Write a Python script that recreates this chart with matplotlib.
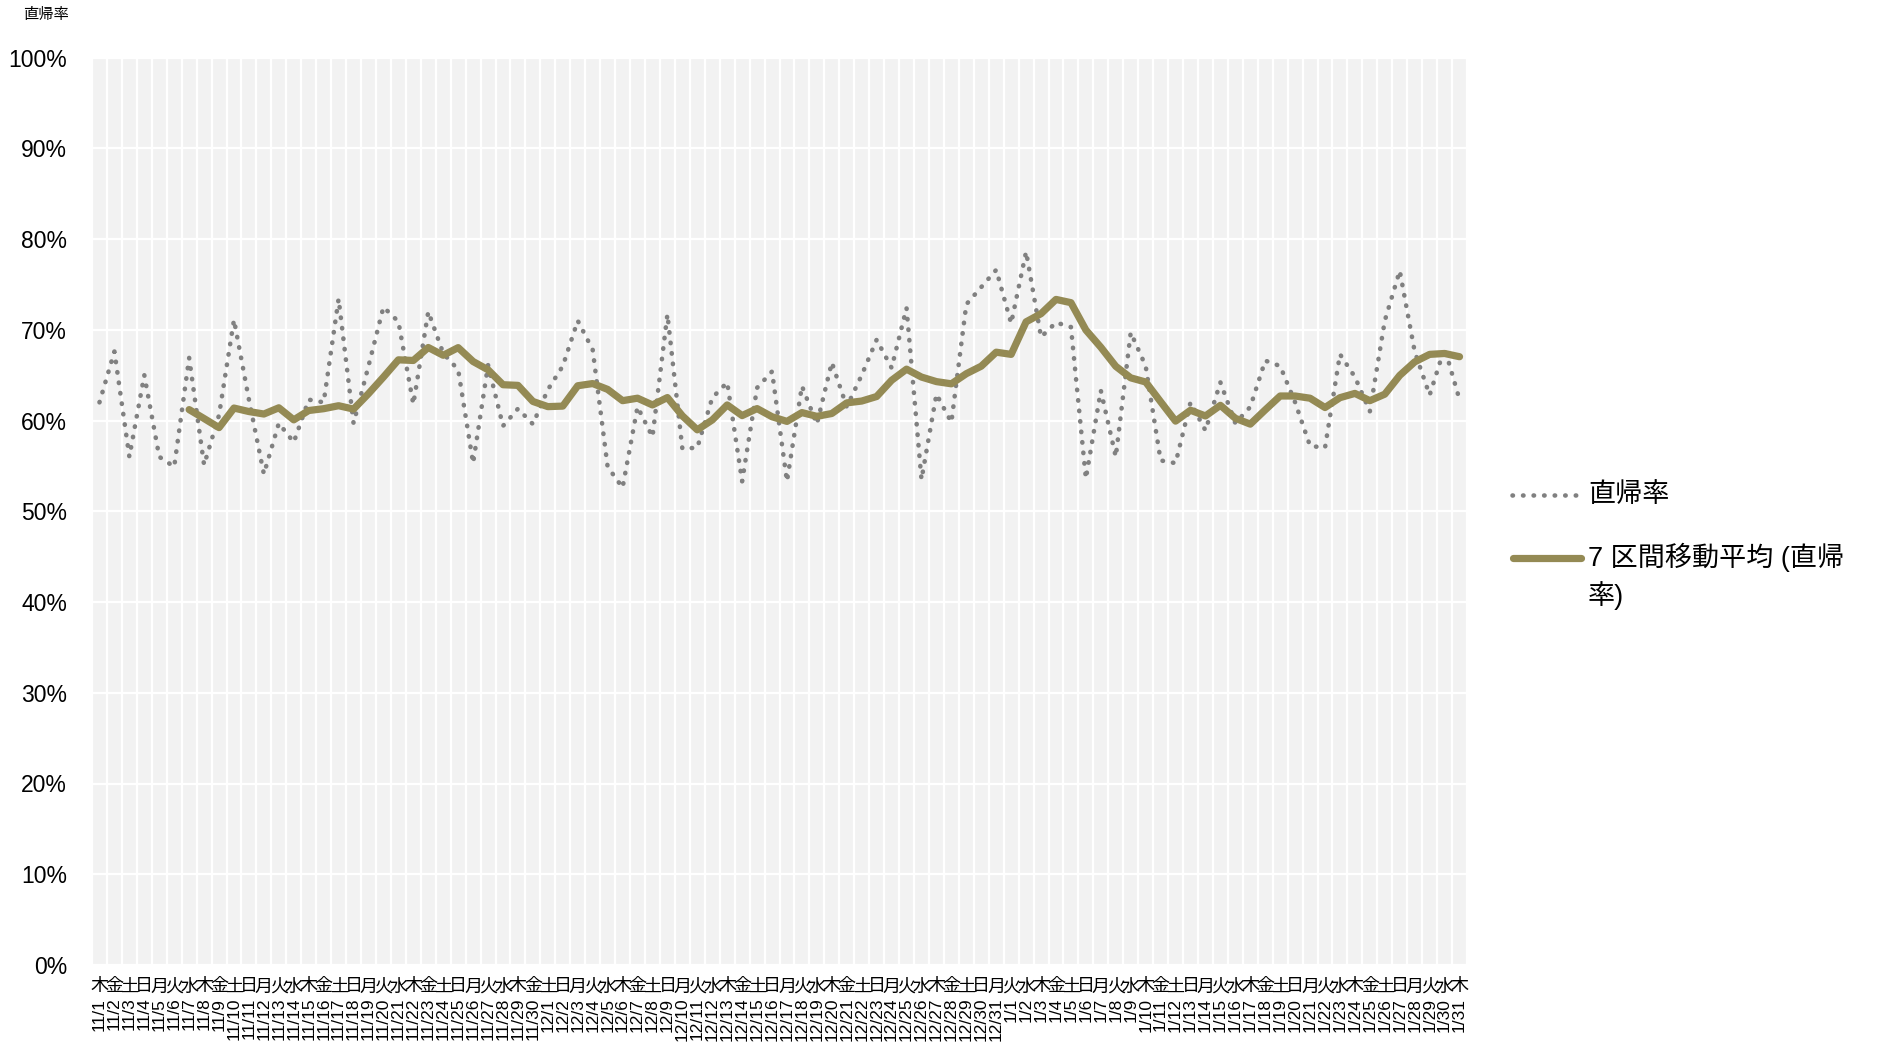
import numpy as np
import pandas as pd
import matplotlib
matplotlib.use("Agg")
import matplotlib.pyplot as plt
from matplotlib.lines import Line2D
from matplotlib import transforms

plt.rcParams['font.family'] = ['Liberation Sans', 'Noto Sans CJK JP', 'DejaVu Sans']

# ---------------- data ----------------
dates = pd.date_range('2018-11-01', '2019-01-31', freq='D')
date_labels = [f"{d.month}/{d.day}" for d in dates]
weekday_names = ['月', '火', '水', '木', '金', '土', '日']
weekday_labels = [weekday_names[d.weekday()] for d in dates]

# 直帰率 (%)
bounce_rate = [
    62.0, 67.6, 56.0, 65.0, 56.0, 54.9, 66.9, 55.1, 60.6, 71.1,   # 11/1-11/10
    62.3, 54.1, 59.7, 57.6, 62.3, 62.0, 73.4, 59.7, 66.0, 72.5,   # 11/11-11/20
    70.9, 61.8, 72.0, 67.4, 65.6, 55.3, 66.1, 59.4, 61.3, 59.6,   # 11/21-11/30
    63.4, 66.0, 71.0, 67.8, 54.9, 52.6, 61.5, 58.2, 71.7, 56.9,   # 12/1-12/10
    57.0, 62.5, 64.2, 53.3, 63.6, 65.4, 53.3, 63.8, 59.6, 66.4,   # 12/11-12/20
    61.5, 65.0, 68.9, 65.8, 72.4, 53.5, 62.9, 59.8, 72.8, 74.7,   # 12/21-12/30
    76.6,                                                        # 12/31
    70.7, 78.6, 69.2, 70.8, 70.3, 53.6, 63.3, 56.0, 69.7, 66.0,   # 1/1-1/10
    55.6, 55.3, 62.0, 58.9, 64.2, 59.7, 61.5, 66.6, 66.0, 62.0,   # 1/11-1/20
    57.2, 57.0, 67.3, 64.8, 61.0, 71.0, 76.5, 67.6, 62.8, 68.0,   # 1/21-1/30
    62.3,                                                        # 1/31
]
ma_window = 7
series_names = ['直帰率', '7 区間移動平均 (直帰\n率)']
y_ticks = list(range(0, 101, 10))
y_tick_labels = [f"{v}%" for v in y_ticks]
axis_title = '直帰率'

# ---------------- figure ----------------
W, H = 1884, 1044
fig = plt.figure(figsize=(W / 100, H / 100), dpi=100)
ax = fig.add_axes([92 / W, 1 - 965 / H, (1467 - 92) / W, (965 - 57.5) / H])
ax.set_facecolor('#f2f2f2')
for s in ax.spines.values():
    s.set_visible(False)

x = np.arange(len(bounce_rate))
rate = pd.Series(bounce_rate)
ma = rate.rolling(ma_window).mean()

grey = '#808080'
olive = '#948a54'

ax.plot(x, rate, color=grey, lw=3.3, linestyle=(0, (0.1, 2.2)),
        dash_capstyle='round', zorder=3)
ax.plot(x, ma, color=olive, lw=5.2, solid_joinstyle='round',
        solid_capstyle='round', zorder=4)

ax.set_xlim(-0.5, len(x) - 0.5)
ax.set_ylim(0, 100)
ax.set_yticks(y_ticks)
ax.set_yticklabels(y_tick_labels, fontsize=16.5, family=['Liberation Sans'])
ax.set_xticks(x)
ax.set_xticklabels(date_labels, rotation=90, fontsize=12.5,
                   family=['Liberation Sans'])
ax.set_xticks(np.arange(-0.5, len(x), 1), minor=True)
ax.tick_params(axis='x', which='both', length=0, pad=23.5)
ax.tick_params(axis='y', which='both', length=0, pad=18)
ax.grid(which='minor', axis='x', color='white', lw=1.6)
ax.grid(which='major', axis='y', color='white', lw=1.6)
ax.grid(which='major', axis='x', visible=False)
ax.set_axisbelow(True)

# upright weekday characters under each category
wk_trans = transforms.offset_copy(ax.get_xaxis_transform(), fig=fig,
                                  x=0, y=-21.5, units='dots')
for i, w in enumerate(weekday_labels):
    ax.text(i, 0, w, transform=wk_trans, ha='center', va='center',
            fontsize=13, family=['Noto Sans CJK JP'])

# axis title
fig.text(23 / W, 1 - 14 / H, axis_title, ha='left', va='center',
         fontsize=11, family=['Noto Sans CJK JP'])

# legend (drawn manually to match layout)
fig.add_artist(Line2D([1512 / W, 1577 / W], [1 - 495 / H] * 2,
                      transform=fig.transFigure, color=grey, lw=3.3,
                      linestyle=(0, (0.1, 2.2)), dash_capstyle='round'))
fig.add_artist(Line2D([1513 / W, 1581 / W], [1 - 557.5 / H] * 2,
                      transform=fig.transFigure, color=olive, lw=5.2,
                      solid_capstyle='round'))
fig.text(1588 / W, 1 - 495 / H, series_names[0], ha='left', va='center',
         fontsize=19.5, family=['Noto Sans CJK JP'])
fig.text(1588 / W, 1 - 604 / H, series_names[1], ha='left', va='baseline',
         fontsize=19.5, linespacing=1.4,
         family=['Liberation Sans', 'Noto Sans CJK JP'])

fig.savefig('out.png', dpi=100)
